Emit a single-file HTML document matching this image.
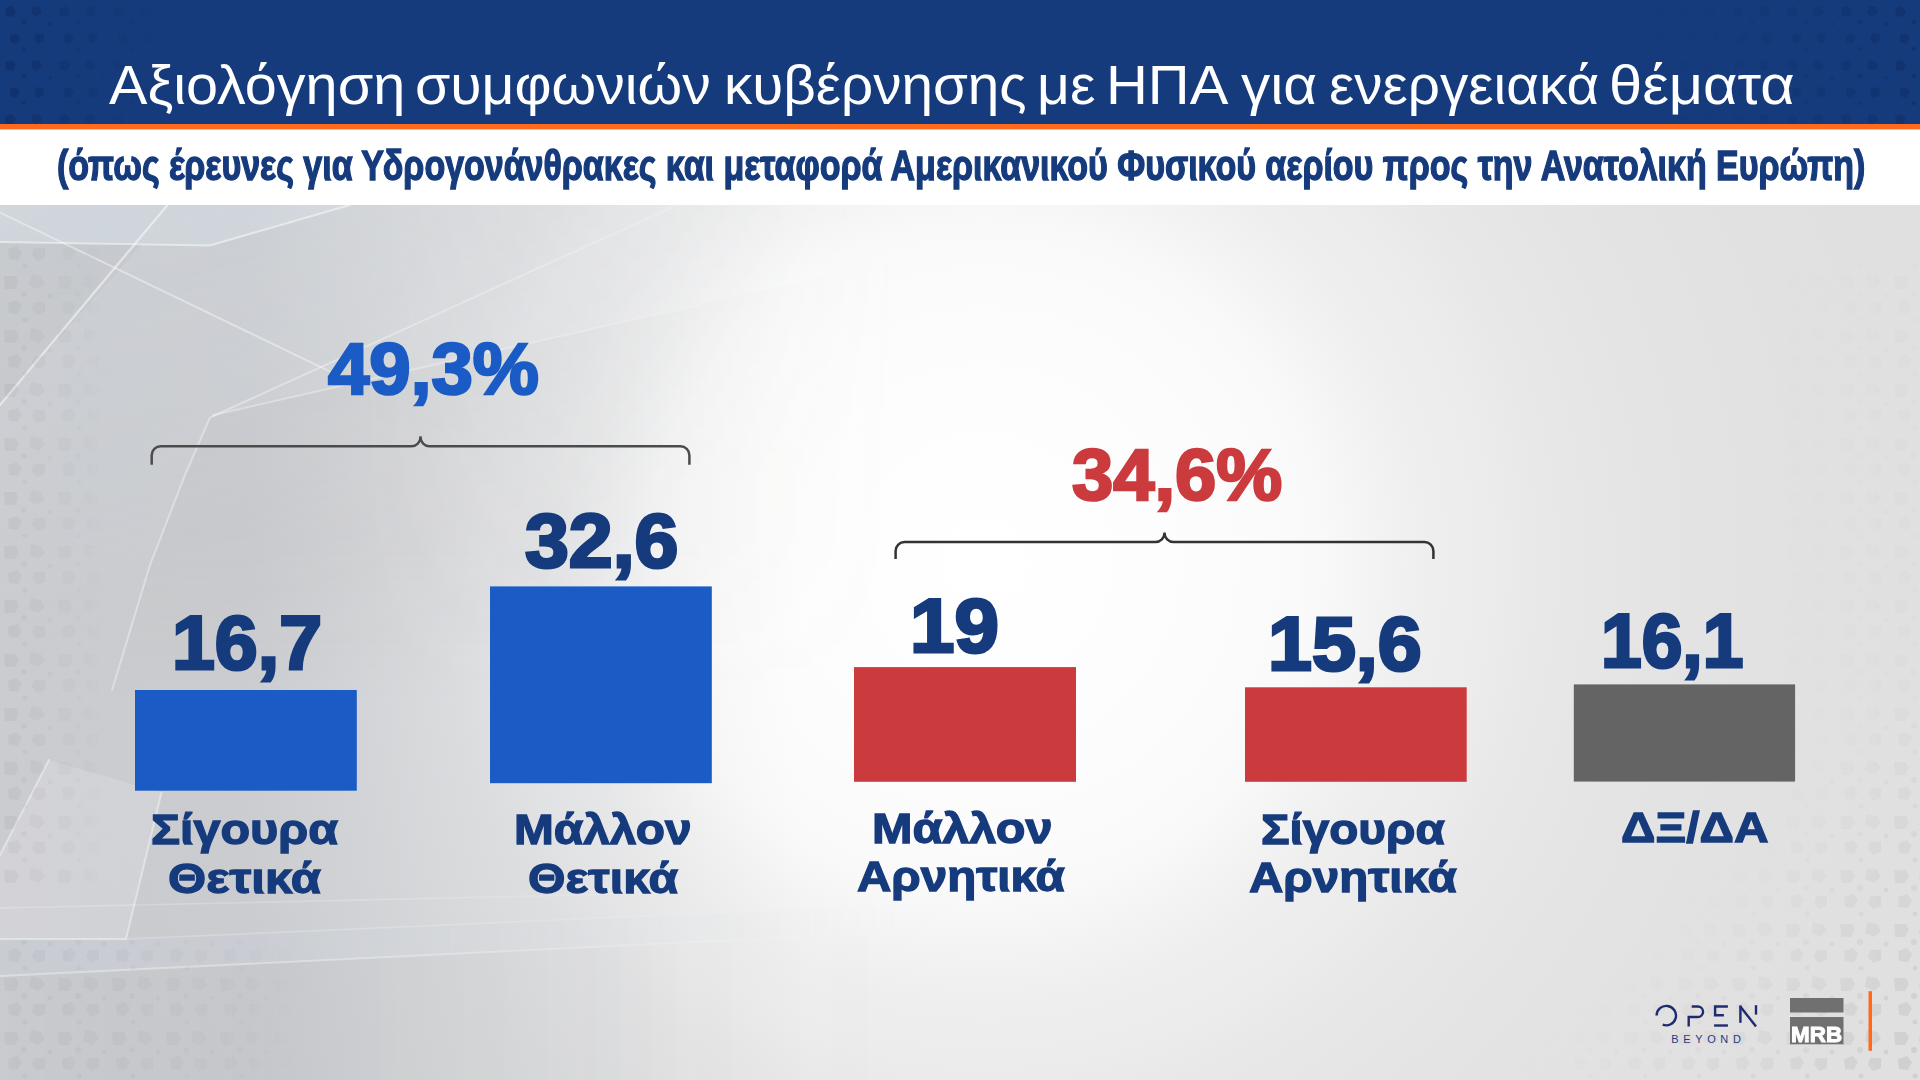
<!DOCTYPE html>
<html lang="el">
<head>
<meta charset="utf-8">
<title>Αξιολόγηση συμφωνιών</title>
<style>
html,body{margin:0;padding:0;}
body{width:1920px;height:1080px;overflow:hidden;position:relative;background:#e6e6e6;
  font-family:"Liberation Sans",sans-serif;}
.abs{position:absolute;}
.t{position:absolute;white-space:nowrap;line-height:1;transform-origin:left top;}
#hdr{left:0;top:0;width:1920px;height:124px;background:#163b7d;}
#org{left:0;top:124px;width:1920px;height:6px;background:linear-gradient(180deg,#ff6a1c 0,#ff6a1c 5px,rgba(255,106,28,.45) 5px,rgba(255,106,28,.45) 6px);}
#wht{left:0;top:129px;width:1920px;height:76px;background:#fff;}
.tw{font-size:56px;color:#fff;}
#sub{font-size:43px;font-weight:bold;color:#163b7d;-webkit-text-stroke:1.4px #163b7d;}
.bar{position:absolute;}
.blue{background:#1a5bc5;}
.red{background:#cb3b3e;}
.gry{background:#646464;}
.num{font-weight:bold;color:#163b7d;font-size:76px;-webkit-text-stroke:3px #163b7d;}
.pct{font-weight:bold;font-size:73px;-webkit-text-stroke:2.6px currentColor;}
.lab{font-weight:bold;color:#163b7d;font-size:43px;-webkit-text-stroke:1.3px #163b7d;}
</style>
</head>
<body>
<svg id="bg" class="abs" style="left:0;top:205px;" width="1920" height="875" viewBox="0 205 1920 875" preserveAspectRatio="none">
<defs>
  <radialGradient id="gBase" cx="985" cy="560" r="950" gradientUnits="userSpaceOnUse">
    <stop offset="0" stop-color="#ffffff"/><stop offset=".176" stop-color="#fdfdfd"/><stop offset=".294" stop-color="#fbfbfb"/>
    <stop offset=".353" stop-color="#f9f9f9"/><stop offset=".412" stop-color="#f3f3f3"/><stop offset=".47" stop-color="#eeeeee"/>
    <stop offset=".53" stop-color="#ececec"/><stop offset=".588" stop-color="#e8e8e8"/><stop offset=".706" stop-color="#e4e4e4"/>
    <stop offset=".882" stop-color="#e1e1e1"/><stop offset="1" stop-color="#e0e0e0"/>
  </radialGradient>
  <linearGradient id="gLeft" x1="0" y1="0" x2="800" y2="0" gradientUnits="userSpaceOnUse">
    <stop offset="0" stop-color="#162648" stop-opacity=".108"/><stop offset=".31" stop-color="#162648" stop-opacity=".115"/>
    <stop offset=".54" stop-color="#162648" stop-opacity=".07"/><stop offset=".75" stop-color="#162648" stop-opacity=".04"/>
    <stop offset=".875" stop-color="#162648" stop-opacity=".015"/><stop offset="1" stop-color="#162648" stop-opacity="0"/>
  </linearGradient>
  <linearGradient id="gBlue" x1="0" y1="205" x2="120" y2="640" gradientUnits="userSpaceOnUse">
    <stop offset="0" stop-color="#e1f3ff" stop-opacity=".12"/><stop offset=".5" stop-color="#e1f3ff" stop-opacity=".06"/><stop offset="1" stop-color="#e1f3ff" stop-opacity="0"/>
  </linearGradient>
  <linearGradient id="gFadeR" x1="0" y1="0" x2="900" y2="0" gradientUnits="userSpaceOnUse">
    <stop offset="0" stop-color="#fff"/><stop offset=".4" stop-color="#fff"/><stop offset="1" stop-color="#000"/>
  </linearGradient>
  <linearGradient id="gGrayV" x1="0" y1="300" x2="0" y2="700" gradientUnits="userSpaceOnUse">
    <stop offset="0" stop-color="#8a8680" stop-opacity=".06"/><stop offset=".6" stop-color="#8a8680" stop-opacity=".05"/><stop offset="1" stop-color="#8a8680" stop-opacity="0"/>
  </linearGradient>
  <linearGradient id="gBotL" x1="0" y1="0" x2="700" y2="0" gradientUnits="userSpaceOnUse">
    <stop offset="0" stop-color="#85878b" stop-opacity=".02"/><stop offset=".4" stop-color="#85878b" stop-opacity=".055"/><stop offset=".8" stop-color="#85878b" stop-opacity=".05"/><stop offset="1" stop-color="#85878b" stop-opacity=".03"/>
  </linearGradient>
  <mask id="mFadeR" maskUnits="userSpaceOnUse" x="0" y="205" width="1920" height="875"><rect x="0" y="205" width="900" height="875" fill="url(#gFadeR)"/></mask>
  <pattern id="pDots" width="54" height="54" patternUnits="userSpaceOnUse">
    <path d="M4 6h12l3 6-4 7H5zM31 4l10 2 4 7-7 6-9-4zM8 33l9-3 5 6-4 8-9-1zM34 32h11v10l-8 3-5-6z" fill="#000"/>
    <circle cx="24" cy="24" r="3" fill="#000"/><circle cx="50" cy="26" r="2.5" fill="#000"/><circle cx="25" cy="50" r="2.5" fill="#000"/>
  </pattern>
  <linearGradient id="gDotFade" x1="0" y1="0" x2="330" y2="0" gradientUnits="userSpaceOnUse">
    <stop offset="0" stop-color="#fff"/><stop offset=".5" stop-color="#bbb"/><stop offset="1" stop-color="#000"/>
  </linearGradient>
  <linearGradient id="gDotFadeN" x1="0" y1="0" x2="120" y2="0" gradientUnits="userSpaceOnUse">
    <stop offset="0" stop-color="#fff"/><stop offset=".5" stop-color="#999"/><stop offset="1" stop-color="#000"/>
  </linearGradient>
  <mask id="mDotLN" maskUnits="userSpaceOnUse" x="0" y="205" width="120" height="875"><rect x="0" y="205" width="120" height="875" fill="url(#gDotFadeN)"/></mask>
  <mask id="mDotL" maskUnits="userSpaceOnUse" x="0" y="205" width="400" height="875"><rect x="0" y="205" width="330" height="875" fill="url(#gDotFade)"/></mask>
  <linearGradient id="gDotFadeR" x1="1920" y1="0" x2="1740" y2="0" gradientUnits="userSpaceOnUse">
    <stop offset="0" stop-color="#fff"/><stop offset="1" stop-color="#000"/>
  </linearGradient>
  <linearGradient id="gDotBR" x1="1920" y1="1080" x2="1700" y2="860" gradientUnits="userSpaceOnUse">
    <stop offset="0" stop-color="#fff"/><stop offset=".55" stop-color="#666"/><stop offset="1" stop-color="#000"/>
  </linearGradient>
  <mask id="mDotBR" maskUnits="userSpaceOnUse" x="1500" y="700" width="420" height="380"><rect x="1500" y="700" width="420" height="380" fill="url(#gDotBR)"/></mask>
  <mask id="mDotR" maskUnits="userSpaceOnUse" x="1600" y="205" width="320" height="875"><rect x="1700" y="205" width="220" height="875" fill="url(#gDotFadeR)"/></mask>
</defs>
<rect x="0" y="205" width="1920" height="875" fill="url(#gBase)"/>
<rect x="0" y="205" width="800" height="875" fill="url(#gLeft)"/>
<g mask="url(#mFadeR)">
  <rect x="0" y="205" width="900" height="440" fill="url(#gBlue)"/>
  <!-- tonal polygons -->
  <polygon points="0,205 350,205 210,245.5 0,242" fill="#e1f3ff" fill-opacity=".17"/>
  <polygon points="0,242 142,244 0,405" fill="#9a9ca0" fill-opacity=".10"/>
  <polygon points="0,405 167,205 142,244 0,242" fill="#9a9ca0" fill-opacity=".0"/>
  <polygon points="210,417.5 640,318 900,258 900,700 112,700 150,565 185,475" fill="url(#gGrayV)"/>
  <polygon points="49,760 161.5,792.6 126,939 0,939 0,855" fill="#fff" fill-opacity=".15"/>
  <polygon points="0,939 126,939 900,905 900,932 0,976" fill="#ccd8e6" fill-opacity=".13"/>
  <polygon points="0,976 900,932 900,1080 0,1080" fill="url(#gBotL)"/>
  <!-- thin lines -->
  <g stroke="#fff" fill="none" stroke-linecap="round">
    <path d="M167.5 205 L0 405" stroke-width="2.3" stroke-opacity="0.50"/>
    <path d="M0 212.5 L332 372.5 L352 382" stroke-width="1.9" stroke-opacity="0.40"/>
    <path d="M0 242 L210 245.5 L350 205" stroke-width="2.1" stroke-opacity="0.48"/>
    <path d="M677 205 L210 417.5 L185 475 L150 565 L112 690" stroke-width="2.0" stroke-opacity="0.36"/>
    <path d="M700 305 L640 318 L213 415" stroke-width="1.8" stroke-opacity="0.30"/>
    <path d="M49 760 L0 855" stroke-width="2.0" stroke-opacity="0.40"/>
    <path d="M161.5 792.6 L126 939 L0 939" stroke-width="2.0" stroke-opacity="0.40"/>
    <path d="M0 908 L900 888" stroke-width="1.7" stroke-opacity="0.20"/>
    <path d="M0 976 L900 932" stroke-width="1.9" stroke-opacity="0.34"/>
    <path d="M126 939 L900 905" stroke-width="1.7" stroke-opacity="0.20"/>
  </g>
</g>
<rect x="0" y="245" width="120" height="640" fill="url(#pDots)" opacity=".035" mask="url(#mDotLN)"/>
<rect x="0" y="940" width="330" height="140" fill="url(#pDots)" opacity=".033" mask="url(#mDotL)"/>
<rect x="1700" y="260" width="220" height="820" fill="url(#pDots)" opacity=".012" mask="url(#mDotR)"/>
<rect x="1500" y="700" width="420" height="380" fill="url(#pDots)" opacity=".06" mask="url(#mDotBR)"/>
</svg>
<div id="hdr" class="abs"></div>
<svg class="abs" style="left:0;top:0;" width="1920" height="124" viewBox="0 0 1920 124">
<defs>
  <pattern id="pDotsH" width="54" height="54" patternUnits="userSpaceOnUse">
    <path d="M5 8l7-2 4 5-3 6-7-1zM33 6l7 1 2 6-6 4-5-4zM10 35l6-2 4 5-4 6-6-2zM36 33l8 1-1 8-6 2-3-5z" fill="#0b2558"/>
    <circle cx="24" cy="22" r="2.6" fill="#0b2558"/><circle cx="50" cy="24" r="2" fill="#0b2558"/><circle cx="24" cy="49" r="2.2" fill="#0b2558"/>
  </pattern>
  <linearGradient id="gHL" x1="0" y1="0" x2="170" y2="0" gradientUnits="userSpaceOnUse"><stop offset="0" stop-color="#fff"/><stop offset=".45" stop-color="#888"/><stop offset="1" stop-color="#000"/></linearGradient>
  <linearGradient id="gHR" x1="1920" y1="0" x2="1640" y2="0" gradientUnits="userSpaceOnUse"><stop offset="0" stop-color="#fff"/><stop offset=".5" stop-color="#777"/><stop offset="1" stop-color="#000"/></linearGradient>
  <mask id="mHL" maskUnits="userSpaceOnUse" x="0" y="0" width="240" height="124"><rect x="0" y="0" width="240" height="124" fill="url(#gHL)"/></mask>
  <mask id="mHR" maskUnits="userSpaceOnUse" x="1640" y="0" width="280" height="124"><rect x="1640" y="0" width="280" height="124" fill="url(#gHR)"/></mask>
</defs>
<rect x="0" y="0" width="240" height="124" fill="url(#pDotsH)" opacity=".42" mask="url(#mHL)"/>
<rect x="1640" y="0" width="280" height="124" fill="url(#pDotsH)" opacity=".36" mask="url(#mHR)"/>
</svg>
<div id="wht" class="abs"></div>
<div id="org" class="abs"></div>

<div id="t1" class="t tw" style="left:108.8px;top:56.7px;transform:scaleX(1.0281);">Αξιολόγηση</div>
<div id="t2" class="t tw" style="left:415.4px;top:56.7px;transform:scaleX(1.0211);">συμφωνιών</div>
<div id="t3" class="t tw" style="left:723.5px;top:56.7px;transform:scaleX(1.0104);">κυβέρνησης</div>
<div id="t4" class="t tw" style="left:1037.2px;top:56.7px;transform:scaleX(1.0194);">με</div>
<div id="t5" class="t tw" style="left:1106.1px;top:56.7px;transform:scaleX(1.0354);">ΗΠΑ</div>
<div id="t6" class="t tw" style="left:1241.1px;top:56.7px;transform:scaleX(1.0444);">για</div>
<div id="t7" class="t tw" style="left:1329.1px;top:56.7px;transform:scaleX(1.0112);">ενεργειακά</div>
<div id="t8" class="t tw" style="left:1609.3px;top:56.7px;transform:scaleX(1.0647);">θέματα</div>
<div id="sub" class="t" style="left:56.7px;top:144.4px;transform:scaleX(0.7900);">(όπως έρευνες για Υδρογονάνθρακες και μεταφορά Αμερικανικού Φυσικού αερίου προς την Ανατολική Ευρώπη)</div>

<!-- bars -->
<svg class="abs" style="left:0;top:560px;" width="1920" height="260" viewBox="0 560 1920 260">
  <rect x="135" y="690" width="221.8" height="100.7" fill="#1a5bc5"/>
  <rect x="490" y="586.4" width="221.8" height="196.8" fill="#1a5bc5"/>
  <rect x="854" y="667.1" width="222" height="114.7" fill="#cb3b3e"/>
  <rect x="1245" y="687.3" width="221.7" height="94.5" fill="#cb3b3e"/>
  <rect x="1573.8" y="684.4" width="221.3" height="97.2" fill="#646464"/>
</svg>

<!-- numbers -->
<div id="n1" class="t num" style="left:172.0px;top:605.2px;transform:scaleX(1.0140);">16,7</div>
<div id="n2" class="t num" style="left:524.5px;top:502.6px;transform:scaleX(1.0370);">32,6</div>
<div id="n3" class="t num" style="left:909.9px;top:587.9px;transform:scaleX(1.0510);">19</div>
<div id="n4" class="t num" style="left:1267.7px;top:605.5px;transform:scaleX(1.0390);">15,6</div>
<div id="n5" class="t num" style="left:1601.3px;top:602.6px;transform:scaleX(0.9620);">16,1</div>

<!-- percents -->
<div id="p1" class="t pct" style="left:327.7px;top:332.3px;color:#1a5bc5;transform:scaleX(1.0190);">49,3%</div>
<div id="p2" class="t pct" style="left:1072.2px;top:437.6px;color:#cb3b3e;transform:scaleX(1.0160);">34,6%</div>

<!-- brackets -->
<svg class="abs" style="left:0;top:0;" width="1920" height="1080" viewBox="0 0 1920 1080" fill="none">
  <path d="M151.7 464.7 V455.3 a9 9 0 0 1 9 -9 H411.5 a9 9 0 0 0 9 -9 V436.2 V437.3 a9 9 0 0 0 9 9 H680.4 a9 9 0 0 1 9 9 V464.7" stroke="#4b4b4b" stroke-width="2.5"/>
  <path d="M895.6 559.1 V551 a9 9 0 0 1 9 -9 H1155.5 a9 9 0 0 0 9 -9 V532.5 V533 a9 9 0 0 0 9 9 H1424.4 a9 9 0 0 1 9 9 V559.1" stroke="#333" stroke-width="2.5"/>
</svg>

<!-- labels -->
<div id="l1a" class="t lab" style="left:150.7px;top:807.8px;transform:scaleX(1.1270);">Σίγουρα</div>
<div id="l1b" class="t lab" style="left:167.8px;top:857.2px;transform:scaleX(1.1410);">Θετικά</div>
<div id="l2a" class="t lab" style="left:514.3px;top:807.8px;transform:scaleX(1.1120);">Μάλλον</div>
<div id="l2b" class="t lab" style="left:528.1px;top:857.2px;transform:scaleX(1.1200);">Θετικά</div>
<div id="l3a" class="t lab" style="left:871.7px;top:807.0px;transform:scaleX(1.1300);">Μάλλον</div>
<div id="l3b" class="t lab" style="left:856.8px;top:855.2px;transform:scaleX(1.1050);">Αρνητικά</div>
<div id="l4a" class="t lab" style="left:1260.8px;top:807.8px;transform:scaleX(1.1070);">Σίγουρα</div>
<div id="l4b" class="t lab" style="left:1248.9px;top:856.2px;transform:scaleX(1.1050);">Αρνητικά</div>
<div id="l5a" class="t lab" style="left:1620.5px;top:806.0px;transform:scaleX(1.1130);">ΔΞ/ΔΑ</div>


<!-- logos -->
<svg class="abs" style="left:1640px;top:980px;" width="260" height="90" viewBox="1640 980 260 90" fill="none">
  <g stroke="#1f2b6f" stroke-width="2.4" stroke-linecap="butt" stroke-linejoin="miter">
    <path d="M1656.6 1015.4 A9.7 9.7 0 1 1 1662.7 1024.6"/>
    <path d="M1691.7 1006.5 H1697.8 A5.28 5.28 0 0 1 1697.8 1017.07 H1688.7 V1026.5"/>
    <path d="M1727.9 1006.5 H1715.1 V1015.3 H1723.9"/>
    <path d="M1714.1 1025.5 H1727.9"/>
    <path d="M1740.4 1022.8 V1005.4"/>
    <path d="M1740.1 1006.2 L1756.0 1026.5"/>
    <path d="M1756.0 1005.2 V1014.6"/>
  </g>
  <rect x="1790" y="998" width="53.5" height="14.5" fill="#707070"/>
  <rect x="1790" y="1017" width="53.5" height="27.3" fill="#707070"/>
  <rect x="1868.5" y="991.2" width="3.5" height="59.6" fill="#ff6a1a"/>
</svg>
<div id="beyond" class="t" style="left:1671.2px;top:1034.2px;font-size:11px;letter-spacing:4.65px;color:#2a3a82;">BEYOND</div>
<div id="mrb" class="t" style="left:1790.6px;top:1024.3px;font-size:22px;font-weight:bold;color:#fff;-webkit-text-stroke:1px #fff;transform:scaleX(1.02);">MRB</div>
</body>
</html>
